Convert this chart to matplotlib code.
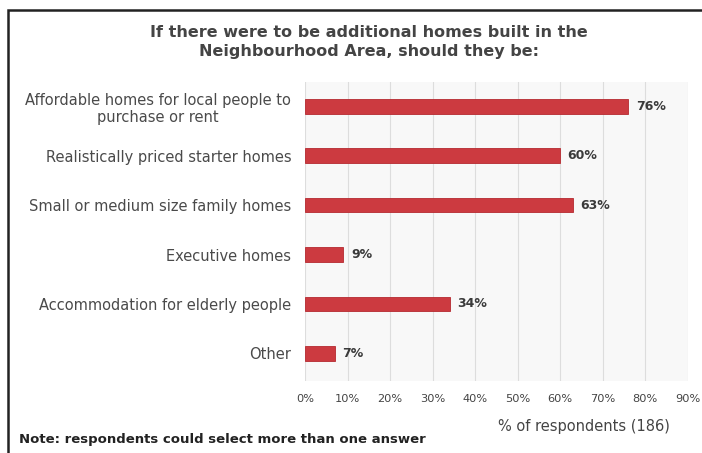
import matplotlib.pyplot as plt
import matplotlib.patches as patches
import numpy as np

# Survey responses
categories = [
    "Affordable homes for local people to\npurchase or rent",
    "Realistically priced starter homes",
    "Small or medium size family homes",
    "Executive homes",
    "Accommodation for elderly people",
    "Other",
]
percentages = [76, 60, 63, 9, 34, 7]
ticks = [0, 10, 20, 30, 40, 50, 60, 70, 80, 90]

fig = plt.figure(figsize=(7.02, 4.53), dpi=100)
ax = fig.add_axes([0.4345, 0.16, 0.545, 0.66])

y = np.arange(len(categories))
ax.barh(y, percentages, height=0.3, color="#cc3a40", edgecolor="#b52a30", linewidth=0.6, zorder=3)

for yi, v in zip(y, percentages):
    ax.text(v + 1.8, yi, f"{v}%", va="center", ha="left", fontsize=9,
            color="#3a3a3a", fontweight="semibold")

ax.set_ylim(5.55, -0.5)
ax.set_xlim(0, 90)
ax.set_yticks(y)
ax.set_yticklabels(categories, fontsize=10.5, color="#4a4a4a", multialignment="center")
ax.set_xticks(ticks)
ax.set_xticklabels([f"{t}%" for t in ticks], fontsize=8.2, color="#444444")
ax.tick_params(length=0, pad=10)
ax.tick_params(axis="x", pad=10)
ax.grid(axis="x", color="#dddddd", linewidth=0.8, zorder=0)
ax.set_facecolor("#f8f8f8")
for s in ax.spines.values():
    s.set_visible(False)

ax.set_xlabel("% of respondents (186)", fontsize=10.5, color="#444444")
ax.xaxis.set_label_coords(0.73, -0.13)

fig.text(0.525, 0.907, "If there were to be additional homes built in the\nNeighbourhood Area, should they be:",
         ha="center", va="center", fontsize=11.5, color="#444444", fontweight="semibold",
         linespacing=1.35)
fig.text(0.027, 0.029, "Note: respondents could select more than one answer",
         ha="left", va="center", fontsize=9.5, color="#222222", fontweight="semibold")

# outer frame
fig.add_artist(patches.Rectangle((0.012, -0.01), 0.995, 0.988, transform=fig.transFigure,
                                 fill=False, edgecolor="#222222", linewidth=1.8))

fig.savefig("out.png", dpi=100)
